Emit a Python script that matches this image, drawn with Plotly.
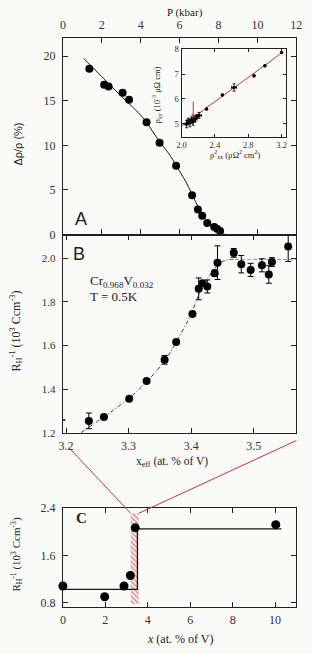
import plotly.graph_objects as go

W, H = 312, 654

# ---------------- data ----------------
# Panel A: resistivity anomaly vs pressure
pA = [1.36, 2.12, 2.35, 3.07, 3.40, 4.30, 4.97, 5.82, 6.64, 6.94, 7.16, 7.42, 7.78, 7.92, 8.08]
dA = [18.6, 16.8, 16.6, 15.9, 15.1, 12.6, 10.3, 7.7, 4.4, 2.8, 2.1, 1.3, 0.85, 0.65, 0.4]
pA_fit = [1.07, 2.0, 3.0, 4.13, 4.97, 5.5, 5.82, 6.3, 6.64, 7.0, 7.4, 7.8, 8.2, 8.4, 8.85]
dA_fit = [19.75, 17.7, 15.5, 13.06, 10.4, 8.9, 7.75, 6.0, 4.5, 2.9, 1.5, 0.6, 0.08, 0.0, 0.0]

# Inset: rho_xy vs rho_xx^2
in_x = [2.06, 2.08, 2.10, 2.12, 2.14, 2.16, 2.18, 2.21, 2.30, 2.49, 2.63, 2.87, 3.00, 3.20]
in_y = [4.98, 5.10, 5.02, 5.15, 5.08, 5.20, 5.25, 5.33, 5.59, 6.15, 6.46, 6.93, 7.34, 7.87]
in_ex = [0.02, 0.02, 0.03, 0.02, 0.03, 0.02, 0.02, 0.03, 0.0, 0.0, 0.03, 0.0, 0.0, 0.0]
in_ey = [0.15, 0.12, 0.15, 0.12, 0.15, 0.1, 0.1, 0.12, 0.0, 0.0, 0.15, 0.0, 0.0, 0.0]
in_fit_x = [2.0, 3.22]
in_fit_y = [4.9, 7.9]
arrow_x, arrow_y0, arrow_y1 = 2.14, 5.95, 5.2

# Panel B: inverse Hall coefficient vs x_eff
xB = [3.194, 3.2365, 3.2606, 3.301, 3.3288, 3.3575, 3.376, 3.402, 3.412, 3.418, 3.4257,
      3.4375, 3.442, 3.468, 3.48, 3.495, 3.513, 3.524, 3.529, 3.555]
yB = [1.258, 1.254, 1.272, 1.356, 1.437, 1.534, 1.615, 1.744, 1.859, 1.885, 1.870,
      1.931, 1.979, 2.024, 1.972, 1.946, 1.967, 1.925, 1.982, 2.053]
eB = [0.0, 0.036, 0.0, 0.0, 0.0, 0.02, 0.0, 0.0, 0.05, 0.0, 0.03,
      0.015, 0.077, 0.02, 0.04, 0.03, 0.03, 0.04, 0.02, 0.068]
xB_fit = [3.224, 3.26, 3.30, 3.33, 3.358, 3.376, 3.40, 3.412, 3.425, 3.44, 3.455, 3.47]
yB_fit = [1.20, 1.272, 1.356, 1.437, 1.53, 1.615, 1.744, 1.83, 1.90, 1.96, 1.99, 1.994]
xB_flat = [3.47, 3.568]
yB_flat = [1.994, 1.994]

# Panel C: inverse Hall coefficient vs nominal x
xC = [0.0, 1.97, 2.88, 3.18, 3.41, 10.03]
yC = [1.085, 0.904, 1.085, 1.262, 2.066, 2.12]
step_x = [0.0, 3.51, 3.51, 10.3]
step_y = [1.03, 1.03, 2.05, 2.05]
hatch_y = [0.78, 2.31]

# axis ranges / ticks
rangeA_x, rangeA_y = [0, 12], [0, 22]
rangeB_x, rangeB_y = [3.195, 3.568], [1.2, 2.108]
rangeC_x, rangeC_y = [0, 11], [0.734, 2.4]
rangeI_x, rangeI_y = [2.0, 3.25], [4.45, 8.0]
ticksA_x = [0, 2, 4, 6, 8, 10, 12]
ticksA_y = [0, 5, 10, 15, 20]
ticksB_x = [3.2, 3.3, 3.4, 3.5]
ticksB_y = [1.2, 1.4, 1.6, 1.8, 2.0]
ticksC_x = [0, 2, 4, 6, 8, 10]
ticksC_y = [0.8, 1.6, 2.4]
ticksI_x = [2.0, 2.4, 2.8, 3.2]
ticksI_y = [5, 6, 7, 8]

# ---------------- layout geometry (pixels) ----------------
def py2p(py):
    return 1 - py / H

def px2p(px):
    return px / W

domX = [px2p(60), px2p(302)]
domA = [py2p(232.5), py2p(32)]
domB = [py2p(435), py2p(232.5)]
domC = [py2p(613), py2p(512)]
domIx = [px2p(183), px2p(291)]
domIy = [py2p(133), py2p(43.3)]

SERIF = "Liberation Serif, Times New Roman, serif"
SANS = "Liberation Sans, Arial, sans-serif"
INK = "#1a1a1a"
RED = "#b83a3a"
BG = "#fafaf8"

fig = go.Figure()

# Panel A
fig.add_trace(go.Scatter(x=pA_fit, y=dA_fit, mode="lines", line=dict(color=INK, width=1, shape="spline"),
                         xaxis="x", yaxis="y", showlegend=False, hoverinfo="skip"))
fig.add_trace(go.Scatter(x=pA, y=dA, mode="markers", marker=dict(color="black", size=8),
                         xaxis="x", yaxis="y", showlegend=False, cliponaxis=False))

# Inset
fig.add_trace(go.Scatter(x=in_fit_x, y=in_fit_y, mode="lines", line=dict(color=RED, width=1),
                         xaxis="x4", yaxis="y4", showlegend=False))
fig.add_trace(go.Scatter(x=in_x, y=in_y, mode="markers", marker=dict(color="black", size=3.5),
                         error_x=dict(type="data", array=in_ex, color="black", thickness=0.8, width=1.5),
                         error_y=dict(type="data", array=in_ey, color="black", thickness=0.8, width=1.5),
                         xaxis="x4", yaxis="y4", showlegend=False))

# Panel B
fig.add_trace(go.Scatter(x=xB_fit, y=yB_fit, mode="lines",
                         line=dict(color="#444444", width=1, dash="4px,2px,1px,2px", shape="spline"),
                         xaxis="x2", yaxis="y2", showlegend=False))
fig.add_trace(go.Scatter(x=xB_flat, y=yB_flat, mode="lines",
                         line=dict(color="#999999", width=1, dash="4px,2px"),
                         xaxis="x2", yaxis="y2", showlegend=False))
fig.add_trace(go.Scatter(x=xB, y=yB, mode="markers", marker=dict(color="black", size=8),
                         error_y=dict(type="data", array=eB, color="black", thickness=1, width=3),
                         xaxis="x2", yaxis="y2", showlegend=False, cliponaxis=False))

# Panel C: hatched band showing the x range of panel B
fig.add_trace(go.Scatter(x=[rangeB_x[0], rangeB_x[1], rangeB_x[1], rangeB_x[0], rangeB_x[0]],
                         y=[hatch_y[0], hatch_y[0], hatch_y[1], hatch_y[1], hatch_y[0]],
                         mode="lines", line=dict(width=0, color="rgba(0,0,0,0)"), fill="toself",
                         fillcolor="rgba(0,0,0,0)",
                         fillpattern=dict(shape="\\", fgcolor="#b04848", bgcolor="#fbeeee", size=3.5, solidity=0.45),
                         xaxis="x3", yaxis="y3", showlegend=False, hoverinfo="skip"))
fig.add_trace(go.Scatter(x=step_x, y=step_y, mode="lines", line=dict(color=INK, width=1.2),
                         xaxis="x3", yaxis="y3", showlegend=False))
fig.add_trace(go.Scatter(x=xC, y=yC, mode="markers", marker=dict(color="black", size=9),
                         xaxis="x3", yaxis="y3", showlegend=False, cliponaxis=False))

axis_common = dict(showgrid=False, zeroline=False, showline=True, linecolor="#222", linewidth=1.2,
                   ticks="inside", ticklen=5, tickcolor="#222", mirror="ticks",
                   tickfont=dict(family=SERIF, size=12, color="#333"))

fig.update_layout(
    width=W, height=H, margin=dict(l=0, r=0, t=0, b=0),
    paper_bgcolor=BG, plot_bgcolor=BG, showlegend=False,
    xaxis=dict(axis_common, domain=domX, anchor="y", side="top", range=rangeA_x, tickvals=ticksA_x,
               ticklabelstandoff=3),
    yaxis=dict(axis_common, domain=domA, anchor="x", range=rangeA_y, tickvals=ticksA_y, ticklabelstandoff=4),
    xaxis2=dict(axis_common, domain=domX, anchor="y2", range=rangeB_x, tickvals=ticksB_x, tickformat=".1f",
                ticklabelstandoff=2),
    yaxis2=dict(axis_common, domain=domB, anchor="x2", range=rangeB_y, tickvals=ticksB_y, tickformat=".1f",
                ticklabelstandoff=4, tickfont=dict(family=SERIF, size=11, color="#333")),
    xaxis3=dict(axis_common, domain=domX, anchor="y3", range=rangeC_x, tickvals=ticksC_x, ticklabelstandoff=2),
    yaxis3=dict(axis_common, domain=domC, anchor="x3", range=rangeC_y, tickvals=ticksC_y, tickformat=".1f",
                ticklabelstandoff=4),
    xaxis4=dict(axis_common, domain=domIx, anchor="y4", range=rangeI_x, tickvals=ticksI_x, tickformat=".1f",
                ticklen=3, linewidth=1, tickfont=dict(family=SERIF, size=8.5, color="#333")),
    yaxis4=dict(axis_common, domain=domIy, anchor="x4", range=rangeI_y, tickvals=ticksI_y,
                ticklen=3, linewidth=1, tickfont=dict(family=SERIF, size=8.5, color="#333")),
)

# inset background
fig.add_shape(type="rect", xref="paper", yref="paper", x0=domIx[0], x1=domIx[1], y0=domIy[0], y1=domIy[1],
              fillcolor="white", line=dict(width=0), layer="below")

# connector lines from panel B's x range to the hatched band in panel C
def c_to_paper(xv, yv):
    fx = domX[0] + (xv - rangeC_x[0]) / (rangeC_x[1] - rangeC_x[0]) * (domX[1] - domX[0])
    fy = domC[0] + (yv - rangeC_y[0]) / (rangeC_y[1] - rangeC_y[0]) * (domC[1] - domC[0])
    return fx, fy

hx0, hy = c_to_paper(rangeB_x[0], hatch_y[1])
hx1, _ = c_to_paper(rangeB_x[1], hatch_y[1])
fig.add_shape(type="line", xref="paper", yref="paper", x0=px2p(66), y0=py2p(450), x1=hx0, y1=hy,
              line=dict(color=RED, width=1))
fig.add_shape(type="line", xref="paper", yref="paper", x0=domX[1], y0=py2p(443), x1=hx1, y1=hy,
              line=dict(color=RED, width=1))

def ann(text, x, y, size=12, family=SERIF, angle=0, color="#222", **kw):
    fig.add_annotation(text=text, xref="paper", yref="paper", x=px2p(x), y=py2p(y), showarrow=False,
                       textangle=angle, font=dict(family=family, size=size, color=color),
                       xanchor=kw.pop("xanchor", "center"), yanchor=kw.pop("yanchor", "middle"), **kw)

ann("P (kbar)", 187, 5.5, size=11)
ann("Δρ/ρ (%)", 13, 140, size=11, family=SANS, angle=-90)
ann("R<sub>H</sub><sup>-1</sup> (10<sup>3</sup> Ccm<sup>-3</sup>)", 12, 331, size=12, angle=-90)
ann("x<sub>eff</sub> (at. % of V)", 173, 465, size=11.5)
ann("R<sub>H</sub><sup>-1</sup> (10<sup>3</sup> Ccm<sup>-3</sup>)", 12, 559, size=11, angle=-90)
ann("<i>x</i> (at. % of V)", 181, 646, size=12)
ann("A", 70, 217, size=18, family=SANS, xanchor="left")
ann("B", 68, 252, size=18, family=SANS, xanchor="left")
ann("<b>C</b>", 72, 522, size=15, xanchor="left")
ann("Cr<sub>0.968</sub>V<sub>0.032</sub>", 86, 280, size=13, xanchor="left")
ann("T = 0.5K", 86, 296, size=13, xanchor="left")
ann("ρ<sub>xy</sub> (10<sup>-3</sup> μΩ cm)", 157, 90, size=8.5, angle=-90)
ann("ρ<sup>2</sup><sub>xx</sub> (μΩ<sup>2</sup> cm<sup>2</sup>)", 238, 151, size=8.5)

# arrow in inset
fig.add_annotation(x=arrow_x, y=arrow_y1, ax=arrow_x, ay=arrow_y0, xref="x4", yref="y4", axref="x4", ayref="y4",
                   showarrow=True, arrowhead=2, arrowsize=0.8, arrowwidth=1, arrowcolor=RED, text="")

fig.write_html("out.html", config={"displayModeBar": False},
               post_script="document.body.style.margin='0px';")
